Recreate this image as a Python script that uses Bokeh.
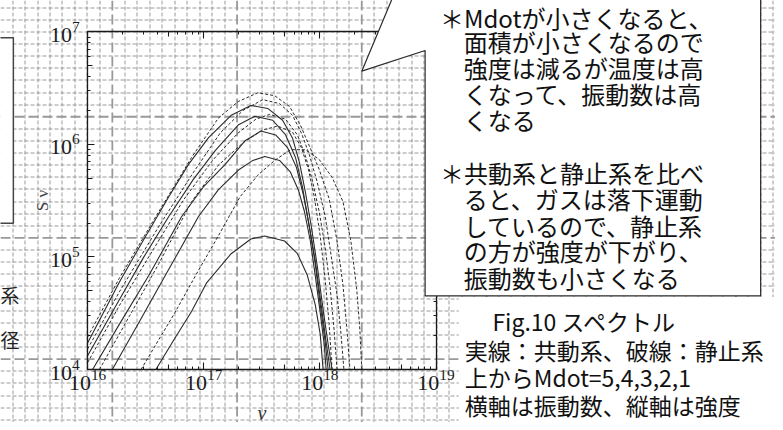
import math
import numpy as np
from bokeh.plotting import figure
from bokeh.models import (Range1d, LinearScale, LogAxis, LogTicker, FixedTicker,
                          ColumnDataSource)
from bokeh.core.properties import value
from bokeh.embed import file_html
from bokeh.resources import INLINE

# ---------------- data (log10 values) ----------------
mdot = [5, 4, 3, 2, 1]

# comoving frame (solid)
lognu_co_5 = [16.000, 16.273, 16.486, 16.699, 16.869, 17.040, 17.236, 17.406, 17.551, 17.679, 17.764, 17.824, 17.875, 17.926, 17.977, 18.028, 18.071, 18.105]
logS_co_5 = [4.235, 4.776, 5.160, 5.535, 5.823, 6.058, 6.259, 6.346, 6.320, 6.215, 6.058, 5.840, 5.578, 5.273, 4.924, 4.532, 4.227, 4.000]
lognu_co_4 = [16.000, 16.273, 16.486, 16.699, 16.912, 17.099, 17.296, 17.440, 17.594, 17.705, 17.790, 17.850, 17.901, 17.960, 18.011, 18.054, 18.088]
logS_co_4 = [4.122, 4.619, 5.003, 5.360, 5.692, 5.945, 6.172, 6.250, 6.215, 6.084, 5.884, 5.622, 5.317, 4.968, 4.576, 4.244, 4.000]
lognu_co_3 = [16.043, 16.273, 16.528, 16.810, 16.997, 17.185, 17.355, 17.492, 17.619, 17.722, 17.798, 17.858, 17.909, 17.960, 18.003, 18.046, 18.071]
logS_co_3 = [4.000, 4.401, 4.837, 5.360, 5.622, 5.823, 6.032, 6.119, 6.084, 5.971, 5.796, 5.552, 5.273, 4.942, 4.576, 4.244, 4.000]
lognu_co_2 = [16.213, 16.443, 16.699, 16.955, 17.125, 17.296, 17.423, 17.526, 17.653, 17.747, 17.815, 17.867, 17.918, 17.960, 18.003, 18.037, 18.054]
logS_co_2 = [4.000, 4.419, 4.890, 5.360, 5.596, 5.770, 5.858, 5.892, 5.858, 5.753, 5.596, 5.404, 5.142, 4.837, 4.506, 4.227, 4.000]
lognu_co_1 = [16.588, 16.742, 16.895, 17.023, 17.236, 17.406, 17.526, 17.696, 17.807, 17.892, 17.960, 18.003, 18.028]
logS_co_1 = [4.000, 4.262, 4.515, 4.767, 5.029, 5.160, 5.186, 5.142, 5.029, 4.837, 4.576, 4.314, 4.000]

# rest frame (dashed)
lognu_rest_5 = [16.000, 16.273, 16.588, 16.895, 17.125, 17.296, 17.466, 17.611, 17.739, 17.832, 17.909, 17.994, 18.080, 18.148, 18.199, 18.233, 18.259]
logS_rest_5 = [4.288, 4.811, 5.360, 5.884, 6.233, 6.381, 6.459, 6.433, 6.337, 6.172, 5.988, 5.779, 5.517, 5.142, 4.750, 4.358, 4.000]
lognu_rest_4 = [16.000, 16.273, 16.614, 16.912, 17.142, 17.338, 17.509, 17.653, 17.764, 17.841, 17.909, 17.977, 18.046, 18.097, 18.148, 18.182, 18.207]
logS_rest_4 = [4.183, 4.689, 5.273, 5.753, 6.102, 6.302, 6.398, 6.363, 6.259, 6.102, 5.910, 5.666, 5.360, 5.012, 4.663, 4.314, 4.000]
lognu_rest_3 = [16.000, 16.273, 16.528, 16.827, 17.082, 17.296, 17.449, 17.568, 17.705, 17.807, 17.875, 17.935, 17.994, 18.046, 18.088, 18.122, 18.148]
logS_rest_3 = [4.061, 4.567, 5.003, 5.509, 5.866, 6.102, 6.224, 6.267, 6.224, 6.084, 5.901, 5.683, 5.404, 5.081, 4.733, 4.358, 4.000]
lognu_rest_2 = [16.102, 16.358, 16.614, 16.895, 17.125, 17.338, 17.509, 17.636, 17.764, 17.841, 17.901, 17.952, 18.003, 18.046, 18.080, 18.105]
logS_rest_2 = [4.000, 4.471, 4.942, 5.491, 5.814, 6.015, 6.128, 6.163, 6.110, 5.971, 5.779, 5.535, 5.186, 4.794, 4.401, 4.000]
lognu_rest_1 = [16.460, 16.742, 16.955, 17.125, 17.313, 17.466, 17.611, 17.747, 17.875, 17.994, 18.105, 18.199, 18.267, 18.318, 18.344, 18.361]
logS_rest_1 = [4.000, 4.488, 4.881, 5.186, 5.535, 5.727, 5.858, 5.953, 5.953, 5.866, 5.709, 5.491, 5.142, 4.706, 4.358, 4.000]

x_decades = [16, 19]          # 10^16 .. 10^19
y_decades = [4, 7]            # 10^4 .. 10^7
x_label = "ν"
y_label = "S ν"

callout_lines = ["＊Mdotが小さくなると、", "面積が小さくなるので", "強度は減るが温度は高",
                 "くなって、振動数は高", "くなる",
                 "＊共動系と静止系を比べ", "ると、ガスは落下運動", "しているので、静止系",
                 "の方が強度が下がり、", "振動数も小さくなる"]
caption_lines = ["Fig.10 スペクトル", "実線：共動系、破線：静止系",
                 "上からMdot=5,4,3,2,1", "横軸は振動数、縦軸は強度"]
left_fragments = ["系", "径"]

# ---------------- layout (reference pixel frame) ----------------
W_REF, H_REF = 783, 430
W_FIG, H_FIG = 775, 422
SX, SY = W_FIG / W_REF, H_FIG / H_REF
BOX_L, BOX_R, BOX_T, BOX_B = 88, 440, 32, 376
kx = (BOX_R - BOX_L) / (x_decades[1] - x_decades[0])
ky = (BOX_B - BOX_T) / (y_decades[1] - y_decades[0])
x_range = Range1d(10 ** (x_decades[0] - BOX_L / kx), 10 ** (x_decades[1] + (W_REF - BOX_R) / kx))
y_range = Range1d(10 ** (y_decades[0] - (H_REF - BOX_B) / ky), 10 ** (y_decades[1] + BOX_T / ky))

p = figure(width=W_FIG, height=H_FIG, x_axis_type="log", y_axis_type="log",
           x_axis_location=None, y_axis_location=None,
           x_range=x_range, y_range=y_range,
           output_backend="svg", toolbar_location=None, min_border=0,
           background_fill_color="white", border_fill_color="white")
p.outline_line_color = None
p.grid.visible = False

p.extra_x_ranges = {"px": Range1d(0, W_REF)}
p.extra_y_ranges = {"px": Range1d(H_REF, 0)}
p.extra_x_scales = {"px": LinearScale()}
p.extra_y_scales = {"px": LinearScale()}
PX = dict(x_range_name="px", y_range_name="px")


def snap(v, s):
    # place a 1px line on a pixel centre of the rendered canvas
    return (math.floor(v * s) + 0.5) / s


# graph-paper background
gdx, gx0 = 12.6, -0.4
gdy, gy0 = 12.35, 7.3
vk = list(range(1, 63))
hk = list(range(0, 35))
vmin = [snap(gx0 + gdx * k, SX) for k in vk if k % 10 != 9]
vmaj = [gx0 + gdx * k for k in vk if k % 10 == 9]
hmin = [snap(gy0 + gdy * k, SY) for k in hk if k % 10 != 9]
hmaj = [gy0 + gdy * k for k in hk if k % 10 == 9]
p.segment(vmin, [0] * len(vmin), vmin, [H_REF] * len(vmin), line_color="#9a9a9a",
          line_width=1, line_dash="4 2", level="underlay", **PX)
p.segment([0] * len(hmin), hmin, [W_REF] * len(hmin), hmin, line_color="#9a9a9a",
          line_width=1, line_dash="4 2", level="underlay", **PX)
p.segment(vmaj, [0] * len(vmaj), vmaj, [H_REF] * len(vmaj), line_color="#999999",
          line_width=1.8, line_dash="10 4", level="underlay", **PX)
p.segment([0] * len(hmaj), hmaj, [W_REF] * len(hmaj), hmaj, line_color="#999999",
          line_width=1.8, line_dash="10 4", level="underlay", **PX)

# white panels
p.quad(left=[-10], right=[13], top=[38], bottom=[227], fill_color="white",
       line_color="#444444", line_width=1.5, **PX)
p.quad(left=[463], right=[800], top=[302], bottom=[450], fill_color="white",
       line_color=None, **PX)

# curves
solid = [(lognu_co_5, logS_co_5), (lognu_co_4, logS_co_4), (lognu_co_3, logS_co_3),
         (lognu_co_2, logS_co_2), (lognu_co_1, logS_co_1)]
dashed = [(lognu_rest_5, logS_rest_5), (lognu_rest_4, logS_rest_4), (lognu_rest_3, logS_rest_3),
          (lognu_rest_2, logS_rest_2), (lognu_rest_1, logS_rest_1)]
for lx, ly in dashed:
    p.line(10 ** np.array(lx), 10 ** np.array(ly), line_color="#2b2b2b", line_width=1,
           line_dash="3 2")
for lx, ly in solid:
    p.line(10 ** np.array(lx), 10 ** np.array(ly), line_color="#2b2b2b", line_width=1.1)

# axes
AX = "#1a1a1a"
xlo, xhi = 10.0 ** x_decades[0], 10.0 ** x_decades[1]
ylo, yhi = 10.0 ** y_decades[0], 10.0 ** y_decades[1]


def log_axis(fixed, bounds, show_labels, ticker=None, tick_in=7, minor_in=3, line=True):
    ax = LogAxis(fixed_location=fixed, bounds=bounds,
                 ticker=ticker if ticker is not None else LogTicker(desired_num_ticks=4, num_minor_ticks=10),
                 major_tick_in=tick_in, major_tick_out=0,
                 minor_tick_in=minor_in, minor_tick_out=0,
                 major_tick_line_color=AX, minor_tick_line_color=AX if minor_in else None,
                 major_tick_line_width=1.1, minor_tick_line_width=1,
                 axis_line_color=AX if line else None, axis_line_width=1.3,
                 major_label_text_font="Liberation Serif", major_label_text_font_size="22px",
                 major_label_text_color="#1a1a1a" if show_labels else None)
    return ax


left = log_axis(xlo, (ylo, yhi), True)
left.major_label_standoff = 8
left.axis_label = y_label
left.axis_label_text_font = "Liberation Serif"
left.axis_label_text_font_size = "17px"
left.axis_label_text_font_style = "normal"
left.axis_label_text_color = "#444444"
left.axis_label_standoff = -5
p.add_layout(left, "left")

bottom = log_axis(ylo, (xlo, xhi), True)
bottom.major_label_standoff = 0
bottom.axis_label = x_label
bottom.axis_label_text_font = "Liberation Serif"
bottom.axis_label_text_font_size = "20px"
bottom.axis_label_text_font_style = "italic"
bottom.axis_label_text_color = "#333333"
bottom.axis_label_standoff = 9
p.add_layout(bottom, "below")

p.add_layout(log_axis(yhi, (xlo, xhi), False), "above")
p.add_layout(log_axis(xhi, (ylo, yhi), False), "right")

# medium ticks at 5 x 10^n
mid_x = [5 * 10.0 ** d for d in range(x_decades[0], x_decades[1])]
mid_y = [5 * 10.0 ** d for d in range(y_decades[0], y_decades[1])]
p.add_layout(log_axis(xlo, (ylo, yhi), False, FixedTicker(ticks=mid_y), 5, 0, False), "left")
p.add_layout(log_axis(xhi, (ylo, yhi), False, FixedTicker(ticks=mid_y), 5, 0, False), "right")
p.add_layout(log_axis(ylo, (xlo, xhi), False, FixedTicker(ticks=mid_x), 5, 0, False), "below")
p.add_layout(log_axis(yhi, (xlo, xhi), False, FixedTicker(ticks=mid_x), 5, 0, False), "above")

# callout box (drawn above the axes)
p.patch([429, 768, 768, 429, 429, 365, 429], [301, 301, -120, -120, -82, 72, 51],
        fill_color="white", line_color="#2a2a2a", line_width=1.2, level="annotation", **PX)

JP = value("Noto Sans CJK JP")
callout_src = ColumnDataSource(dict(
    x=[444, 468, 468, 468, 468, 444, 468, 468, 468, 468],
    y=[17.5, 42, 68, 95, 121, 175, 202, 229, 255, 282],
    t=callout_lines))
p.text("x", "y", text="t", source=callout_src, text_font=JP, text_font_size=value("24px"),
       text_color="#111111", text_align="left", text_baseline="middle", level="overlay", **PX)

caption_src = ColumnDataSource(dict(x=[497, 469, 469, 469], y=[327, 356, 384, 412],
                                    t=caption_lines))
p.text("x", "y", text="t", source=caption_src, text_font=JP, text_font_size=value("23px"),
       text_color="#111111", text_align="left", text_baseline="middle", level="overlay", **PX)

frag_src = ColumnDataSource(dict(x=[0, 0], y=[300, 345], t=left_fragments))
p.text("x", "y", text="t", source=frag_src, text_font=JP, text_font_size=value("19px"),
       text_color="#222222", text_align="left", text_baseline="middle", **PX)

open("out.html", "w", encoding="utf-8").write(file_html(p, INLINE))
